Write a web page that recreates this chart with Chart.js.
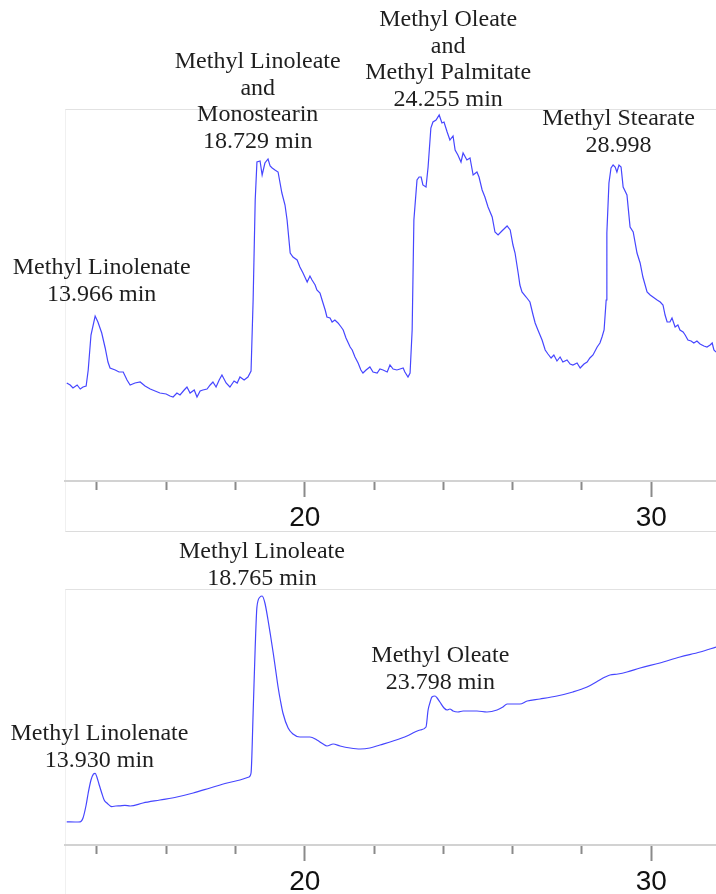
<!DOCTYPE html>
<html>
<head>
<meta charset="utf-8">
<script src="https://cdn.jsdelivr.net/npm/chart.js@4/dist/chart.umd.min.js"></script>
<style>
  html, body { margin: 0; padding: 0; background: #fff; overflow: hidden; }
  #wrap { position: relative; width: 716px; height: 894px; }
  .frame { position: absolute; box-sizing: border-box; }
  #frameTop { left: 65px; top: 109px; width: 651px; height: 423px;
    border-top: 1px solid #e2e2e2; border-left: 1px solid #f0f0f0; border-bottom: 1px solid #dcdcdc; }
  #frameBottom { left: 65px; top: 589px; width: 651px; height: 320px;
    border-top: 1px solid #e2e2e2; border-left: 1px solid #f0f0f0; }
  canvas { position: absolute; left: 0; }
  #top { top: 0; }
  #bottom { top: 535px; }
</style>
</head>
<body>
<div id="wrap">
  <div class="frame" id="frameTop"></div>
  <div class="frame" id="frameBottom"></div>
  <canvas id="top" width="716" height="535"></canvas>
  <canvas id="bottom" width="716" height="360"></canvas>
</div>
<script>
// retention time axis (min)
var timeMin = 13.08;
var timeMax = 31.87;
var tickValues = [14, 16, 18, 20, 22, 24, 26, 28, 30];
var tickLabels = [20, 30];

// upper trace: retention time (min) and detector response
var topTime = [
  13.13, 13.23, 13.31, 13.43, 13.52, 13.60, 13.69, 13.75, 13.83, 13.95,
  14.03, 14.14, 14.24, 14.32, 14.38, 14.53, 14.64, 14.76, 14.87, 14.96,
  15.10, 15.25, 15.39, 15.54, 15.68, 15.82, 16.00, 16.11, 16.20, 16.31,
  16.40, 16.52, 16.60, 16.69, 16.81, 16.89, 16.98, 17.06, 17.18, 17.27,
  17.35, 17.44, 17.53, 17.61, 17.73, 17.84, 17.96, 18.05, 18.13, 18.25,
  18.36, 18.45, 18.51, 18.57, 18.62, 18.71, 18.77, 18.85, 18.94, 19.00,
  19.06, 19.14, 19.23, 19.34, 19.43, 19.49, 19.58, 19.66, 19.78, 19.86,
  19.95, 20.07, 20.15, 20.21, 20.30, 20.35, 20.44, 20.50, 20.59, 20.64,
  20.73, 20.79, 20.87, 20.96, 21.05, 21.11, 21.19, 21.31, 21.37, 21.45,
  21.54, 21.62, 21.68, 21.77, 21.88, 21.97, 22.09, 22.17, 22.26, 22.38,
  22.46, 22.55, 22.66, 22.75, 22.84, 22.89, 22.98, 23.04, 23.10, 23.15,
  23.24, 23.30, 23.36, 23.41, 23.50, 23.56, 23.64, 23.70, 23.79, 23.88,
  23.96, 24.02, 24.11, 24.19, 24.28, 24.34, 24.42, 24.51, 24.57, 24.68,
  24.77, 24.86, 24.97, 25.03, 25.12, 25.20, 25.29, 25.41, 25.49, 25.58,
  25.69, 25.84, 25.93, 26.01, 26.07, 26.16, 26.21, 26.27, 26.39, 26.50,
  26.59, 26.65, 26.73, 26.85, 26.94, 27.02, 27.11, 27.19, 27.28, 27.37,
  27.45, 27.57, 27.66, 27.74, 27.86, 27.95, 28.06, 28.15, 28.23, 28.32,
  28.44, 28.52, 28.58, 28.64, 28.70, 28.72, 28.78, 28.84, 28.90, 28.96,
  29.01, 29.07, 29.13, 29.19, 29.30, 29.39, 29.48, 29.59, 29.68, 29.76,
  29.88, 29.97, 30.05, 30.17, 30.26, 30.34, 30.40, 30.46, 30.54, 30.60,
  30.69, 30.77, 30.83, 30.92, 30.98, 31.06, 31.15, 31.23, 31.32, 31.41,
  31.52, 31.61, 31.70, 31.76, 31.81, 31.87
];
var topSignal = [
  24.5, 24.0, 23.25, 24.0, 23.0, 23.5, 23.75, 27.75, 36.5, 41.25,
  39.75, 37.0, 33.25, 29.75, 28.25, 27.75, 27.25, 27.25, 25.25, 24.0,
  24.5, 24.75, 23.75, 23.0, 22.5, 22.0, 21.75, 21.25, 21.0, 22.0,
  21.5, 22.75, 23.5, 22.0, 22.75, 21.0, 22.5, 22.75, 23.0, 24.0,
  24.75, 23.5, 25.25, 26.5, 24.5, 23.5, 25.0, 24.5, 26.0, 25.25,
  26.0, 27.5, 45.25, 70.25, 79.75, 80.0, 76.5, 79.5, 80.5, 78.75,
  78.25, 77.75, 77.25, 72.0, 69.0, 65.25, 57.0, 56.0, 55.25, 53.5,
  52.0, 49.75, 51.25, 50.25, 49.0, 47.75, 47.0, 45.25, 42.75, 41.0,
  40.75, 39.75, 40.25, 39.5, 38.5, 37.75, 35.75, 33.5, 32.75, 31.0,
  29.5, 27.75, 27.0, 27.75, 28.5, 27.25, 27.0, 28.0, 27.75, 27.25,
  29.0, 28.0, 27.75, 28.0, 28.25, 27.25, 26.0, 27.0, 37.75, 65.25,
  75.25, 76.0, 76.0, 74.0, 73.5, 78.5, 88.25, 89.75, 90.25, 91.5,
  89.5, 89.75, 87.25, 85.25, 86.25, 82.75, 81.5, 79.75, 82.0, 80.25,
  80.75, 76.5, 77.25, 76.0, 72.75, 71.0, 68.5, 66.0, 62.25, 61.5,
  62.5, 63.75, 62.75, 59.0, 57.0, 52.0, 49.0, 47.25, 46.0, 44.75,
  41.5, 39.5, 37.75, 35.25, 32.75, 31.75, 30.75, 31.5, 30.0, 31.0,
  29.75, 30.25, 29.25, 29.0, 29.5, 28.25, 29.25, 29.75, 30.75, 31.5,
  33.5, 34.5, 36.0, 37.75, 45.25, 62.0, 74.5, 78.25, 79.0, 78.5,
  77.25, 79.0, 78.5, 73.5, 71.5, 63.5, 62.25, 57.0, 54.5, 51.0,
  47.25, 46.5, 46.0, 45.25, 44.75, 44.0, 41.5, 39.75, 39.75, 40.75,
  38.5, 39.0, 37.75, 37.25, 36.5, 35.25, 35.0, 34.5, 35.0, 34.25,
  33.75, 33.5, 34.0, 34.5, 32.75, 32.25
];

// lower trace
var bottomTime = [
  13.13, 13.37, 13.52, 13.60, 13.69, 13.75, 13.83, 13.90, 13.95, 14.00,
  14.06, 14.14, 14.21, 14.29, 14.43, 14.55, 14.67, 14.81, 14.96, 15.33,
  15.82, 16.31, 16.78, 17.27, 17.76, 18.13, 18.39, 18.45, 18.51, 18.57,
  18.62, 18.71, 18.77, 18.85, 18.94, 19.01, 19.09, 19.16, 19.23, 19.30,
  19.37, 19.52, 19.66, 19.86, 20.15, 20.35, 20.53, 20.64, 20.82, 21.02,
  21.31, 21.60, 21.88, 22.17, 22.55, 22.95, 23.18, 23.33, 23.50, 23.56,
  23.62, 23.67, 23.76, 23.82, 23.90, 24.02, 24.11, 24.19, 24.28, 24.42,
  24.57, 24.97, 25.26, 25.55, 25.72, 25.84, 26.04, 26.21, 26.42, 26.79,
  27.28, 27.74, 28.15, 28.46, 28.67, 28.81, 29.04, 29.30, 29.68, 30.25,
  30.83, 31.41, 31.87
];
var bottomSignal = [
  5.8, 5.75, 5.8, 6.75, 10.0, 13.0, 16.25, 17.7, 17.9, 17.0,
  15.25, 13.0, 11.25, 10.5, 9.6, 9.75, 9.8, 9.9, 9.75, 10.5,
  11.25, 12.0, 13.0, 14.25, 15.5, 16.25, 17.0, 18.0, 33.0, 49.5,
  59.5, 62.0, 62.25, 60.5, 56.25, 52.5, 48.0, 43.75, 39.5, 36.0,
  33.0, 29.25, 27.75, 27.0, 27.0, 26.25, 25.25, 24.75, 25.25, 24.75,
  24.25, 24.0, 24.25, 25.0, 26.0, 27.25, 28.25, 28.75, 29.5, 33.75,
  35.75, 37.0, 37.25, 36.75, 35.75, 34.25, 33.75, 34.0, 33.5, 33.25,
  33.5, 33.5, 33.25, 33.75, 34.5, 35.25, 35.25, 35.25, 36.0, 36.5,
  37.25, 38.25, 39.5, 41.0, 42.0, 42.5, 42.75, 43.25, 44.25, 45.5,
  47.0, 48.25, 49.5
];

// peak names and retention times written over each trace
var topPeaks = [
  { time: 13.966, lines: ['Methyl Linolenate', '13.966 min'] },
  { time: 18.729, lines: ['Methyl Linoleate', 'and', 'Monostearin', '18.729 min'] },
  { time: 24.255, lines: ['Methyl Oleate', 'and', 'Methyl Palmitate', '24.255 min'] },
  { time: 28.998, lines: ['Methyl Stearate', '28.998'] }
];
var bottomPeaks = [
  { time: 13.930, lines: ['Methyl Linolenate', '13.930 min'] },
  { time: 18.765, lines: ['Methyl Linoleate', '18.765 min'] },
  { time: 23.798, lines: ['Methyl Oleate', '23.798 min'] }
];
// where the first text line sits (canvas px) and a small sideways nudge
var topPeakPos = [[268, 6], [62, -3], [20, -4], [119, 2]];
var bottomPeakPos = [[199, 5], [17, 0], [121, 4]];

function pairs(xs, ys) {
  return xs.map(function (x, i) { return { x: x, y: ys[i] }; });
}

var peakLabels = {
  id: 'peakLabels',
  afterDatasetsDraw: function (chart, args, opts) {
    var ctx = chart.ctx;
    var xs = chart.scales.x;
    ctx.save();
    ctx.font = '24px "Liberation Serif", "Times New Roman", serif';
    ctx.fillStyle = '#1e1e1e';
    ctx.textAlign = 'center';
    ctx.textBaseline = 'middle';
    opts.peaks.forEach(function (p, i) {
      var x = xs.getPixelForValue(p.time) + opts.pos[i][1];
      p.lines.forEach(function (line, j) {
        ctx.fillText(line, x, opts.pos[i][0] + j * 26.6);
      });
    });
    ctx.restore();
  }
};

function makeChart(id, time, signal, yMax, peaks, pos, pad, smooth) {
  return new Chart(document.getElementById(id), {
    type: 'line',
    data: {
      datasets: [{
        data: pairs(time, signal),
        borderColor: '#4646ff',
        borderWidth: 1.2,
        pointRadius: 0,
        tension: smooth ? 0.4 : 0,
        cubicInterpolationMode: smooth ? 'monotone' : 'default'
      }]
    },
    options: {
      responsive: false,
      animation: false,
      devicePixelRatio: 1,
      layout: { padding: pad },
      plugins: {
        legend: { display: false },
        tooltip: { enabled: false },
        peakLabels: { peaks: peaks, pos: pos }
      },
      scales: {
        x: {
          type: 'linear',
          min: timeMin,
          max: timeMax,
          afterBuildTicks: function (scale) {
            scale.ticks = tickValues.map(function (v) { return { value: v }; });
          },
          afterFit: function (scale) { scale.height = 50; },
          border: { display: true, color: '#d2d2d2', width: 2 },
          grid: {
            drawOnChartArea: false,
            drawTicks: true,
            tickLength: 16,
            tickWidth: 2,
            tickColor: '#8a8a8a',
            tickBorderDash: function (c) {
              return tickLabels.indexOf(c.tick.value) >= 0 ? [] : [8, 60];
            }
          },
          ticks: {
            autoSkip: false,
            maxRotation: 0,
            padding: 4,
            color: '#111',
            font: { family: '"Liberation Sans", Arial, sans-serif', size: 28 },
            callback: function (v) { return tickLabels.indexOf(v) >= 0 ? String(v) : ''; }
          }
        },
        y: { display: false, min: 0, max: yMax }
      }
    },
    plugins: [peakLabels]
  });
}

makeChart('top', topTime, topSignal, 93, topPeaks, topPeakPos,
  { left: 65, right: 0, top: 109, bottom: 4 }, false);
makeChart('bottom', bottomTime, bottomSignal, 64, bottomPeaks, bottomPeakPos,
  { left: 65, right: 0, top: 54, bottom: 0 }, true);
</script>
</body>
</html>
